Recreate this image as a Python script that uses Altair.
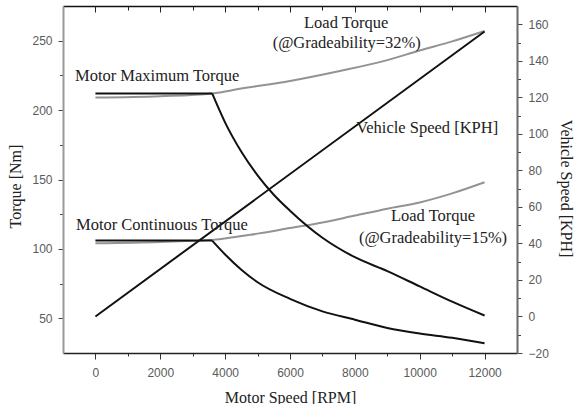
import altair as alt
import pandas as pd

# Motor speed [RPM] against torque [Nm] for each curve
rpm_max = [0, 3600, 4000, 4500, 5000, 5500, 6000, 7000, 8000, 9000, 10000, 11000, 12000]
torque_max = [212, 212, 191, 170, 153, 139, 127.5, 108, 94, 84, 73, 62, 52]

rpm_cont = [0, 3600, 4000, 4500, 5000, 6000, 7000, 8000, 9000, 10000, 11000, 12000]
torque_cont = [106, 106, 96, 85, 76, 64, 55, 49, 43, 39, 36, 32]

rpm_load32 = [0, 2000, 3600, 4500, 6000, 7500, 9000, 10000, 11000, 12000]
torque_load32 = [209, 210, 212, 215.5, 221, 228, 236, 243, 249.5, 257]

rpm_load15 = [0, 2000, 3600, 5000, 6000, 7000, 8000, 9000, 10000, 11000, 12000]
torque_load15 = [104, 105, 106.5, 111, 115, 119, 124, 129, 133.5, 140, 148]

# Base speed where the motor leaves its constant-torque region
base_rpm = 3600

# Vehicle speed [KPH] against motor speed
rpm_speed = [0, 12000]
vehicle_kph = [0, 156]

# Curve annotations (anchored in RPM / torque units)
center_texts = ["Load Torque", "(@Gradeability=32%)", "Load Torque", "(@Gradeability=15%)"]
center_rpm = [7730, 7750, 10410, 10410]
center_torque = [262.8, 248.3, 123.7, 107.8]

left_texts = ["Motor Maximum Torque", "Motor Continuous Torque", "Vehicle Speed [KPH]"]
left_rpm = [-630, -600, 8040]
left_torque = [224.6, 117.2, 187.1]

rpm_ticks = list(range(0, 13000, 1000))
torque_ticks = list(range(50, 251, 25))
kph_ticks = list(range(-20, 161, 10))


def curve(name, rpm, torque):
    return pd.DataFrame({"rpm": rpm, "torque": torque, "curve": name})


def motor_segments(name, rpm, torque):
    # constant-torque plateau and the falling branch drawn as separate pieces,
    # so the corner at base speed stays sharp while the fall is smoothed
    df = curve(name, rpm, torque)
    flat = df[df.rpm <= base_rpm].assign(curve=name + "_flat")
    fall = df[df.rpm >= base_rpm].assign(curve=name + "_fall")
    return flat, fall


load_df = pd.concat([curve("load32", rpm_load32, torque_load32),
                     curve("load15", rpm_load15, torque_load15)])
max_flat, max_fall = motor_segments("max", rpm_max, torque_max)
cont_flat, cont_fall = motor_segments("cont", rpm_cont, torque_cont)
flat_df = pd.concat([max_flat, cont_flat])
fall_df = pd.concat([max_fall, cont_fall])
speed_df = pd.DataFrame({"rpm": rpm_speed, "kph": vehicle_kph})
center_df = pd.DataFrame({"rpm": center_rpm, "torque": center_torque, "text": center_texts})
left_df = pd.DataFrame({"rpm": left_rpm, "torque": left_torque, "text": left_texts})

x_scale = alt.Scale(domain=[-1000, 13000], nice=False, zero=False)
t_scale = alt.Scale(domain=[25, 275], nice=False, zero=False)
s_scale = alt.Scale(domain=[-20, 170], nice=False, zero=False)

SANS = "Liberation Sans"
SERIF = "Liberation Serif"
LABEL_GRAY = "#5a5a5a"

x_bottom = alt.Axis(
    orient="bottom", values=rpm_ticks, grid=False,
    tickSize={"condition": {"test": "datum.value % 2000 === 0", "value": 6}, "value": 3},
    tickColor="#333333", tickWidth=1,
    domainColor="#222222", domainWidth=1.5,
    labelExpr="datum.value % 2000 === 0 ? format(datum.value, 'd') : ''",
    labelFont=SANS, labelFontSize=12, labelColor=LABEL_GRAY, labelPadding=8,
    labelOverlap=False, labelBound=False, labelFlush=False,
    title="Motor Speed [RPM]", titleFont=SERIF, titleFontSize=16,
    titleFontWeight="normal", titleColor="#222222",
    titleY=36, titleBaseline="top",
)

y_left = alt.Axis(
    orient="left", values=torque_ticks, grid=False,
    tickSize={"condition": {"test": "datum.value % 50 === 0", "value": 5}, "value": 3.5},
    tickColor="#444444", tickWidth=1,
    domainColor="#9a9a9a", domainWidth=2,
    labelExpr="datum.value % 50 === 0 ? format(datum.value, 'd') : ''",
    labelFont=SANS, labelFontSize=12, labelColor=LABEL_GRAY, labelPadding=6,
    labelOverlap=False, labelBound=False, labelFlush=False,
    title="Torque [Nm]", titleFont=SERIF, titleFontSize=16,
    titleFontWeight="normal", titleColor="#222222",
    titleAngle=-90, titleX=-48, titleY=180,
    titleAlign="center", titleBaseline="middle",
)

y_right = alt.Axis(
    orient="right", values=kph_ticks, grid=False,
    tickSize={"condition": {"test": "datum.value % 20 === 0", "value": 5}, "value": 3.5},
    tickColor="#444444", tickWidth=1,
    domainColor="#6a6a6a", domainWidth=2,
    labelExpr="datum.value % 20 === 0 ? format(datum.value, 'd') : ''",
    labelFont=SANS, labelFontSize=12, labelColor=LABEL_GRAY, labelPadding=6,
    labelOverlap=False, labelBound=False, labelFlush=False,
    title="Vehicle Speed [KPH]", titleFont=SERIF, titleFontSize=16,
    titleFontWeight="normal", titleColor="#222222",
    titleAngle=90, titleX=48, titleY=182,
    titleAlign="center", titleBaseline="middle",
)

x_top_frame = alt.Axis(orient="top", grid=False, ticks=False, labels=False,
                       domainColor="#111111", domainWidth=1.5, title=None)

x_top_major = alt.Axis(orient="top", values=rpm_ticks[::2], grid=False, domain=False,
                       labels=False, tickSize=6, offset=-6, tickColor="#222222",
                       tickWidth=1, title=None)

x_top_minor = alt.Axis(orient="top", values=rpm_ticks[1::2], grid=False, domain=False,
                       labels=False, tickSize=4, offset=-4, tickColor="#222222",
                       tickWidth=1, title=None)

load_lines = alt.Chart(load_df).mark_line(
    color="#939393", strokeWidth=2, interpolate="monotone"
).encode(
    x=alt.X("rpm:Q", scale=x_scale, axis=x_bottom),
    y=alt.Y("torque:Q", scale=t_scale, axis=y_left),
    detail="curve:N",
)

motor_flat = alt.Chart(flat_df).mark_line(color="#111111", strokeWidth=2).encode(
    x=alt.X("rpm:Q", scale=x_scale, axis=None),
    y=alt.Y("torque:Q", scale=t_scale, axis=None),
    detail="curve:N",
)

motor_fall = alt.Chart(fall_df).mark_line(
    color="#111111", strokeWidth=2, interpolate="monotone"
).encode(
    x=alt.X("rpm:Q", scale=x_scale, axis=None),
    y=alt.Y("torque:Q", scale=t_scale, axis=None),
    detail="curve:N",
)

speed_line = alt.Chart(speed_df).mark_line(color="#111111", strokeWidth=2).encode(
    x=alt.X("rpm:Q", scale=x_scale, axis=x_top_frame),
    y=alt.Y("kph:Q", scale=s_scale, axis=y_right),
)

top_major = alt.Chart(speed_df).mark_point(opacity=0, size=1).encode(
    x=alt.X("rpm:Q", scale=x_scale, axis=x_top_major),
)

top_minor = alt.Chart(speed_df).mark_point(opacity=0, size=1).encode(
    x=alt.X("rpm:Q", scale=x_scale, axis=x_top_minor),
)

center_labels = alt.Chart(center_df).mark_text(
    font=SERIF, fontSize=16.5, color="#222222", align="center", baseline="middle"
).encode(
    x=alt.X("rpm:Q", scale=x_scale, axis=None),
    y=alt.Y("torque:Q", scale=t_scale, axis=None),
    text="text:N",
)

left_labels = alt.Chart(left_df).mark_text(
    font=SERIF, fontSize=16.5, color="#222222", align="left", baseline="middle"
).encode(
    x=alt.X("rpm:Q", scale=x_scale, axis=None),
    y=alt.Y("torque:Q", scale=t_scale, axis=None),
    text="text:N",
)

chart = alt.layer(
    load_lines, motor_flat, motor_fall, speed_line, top_major, top_minor,
    center_labels, left_labels
).resolve_scale(
    y="independent"
).resolve_axis(
    x="independent", y="independent"
).properties(
    width=454, height=347,
    autosize=alt.AutoSizeParams(type="none"),
    padding={"left": 63, "top": 6, "right": 65, "bottom": 51},
    background="white",
).configure_view(stroke=None)

chart.save("out.html", embed_options={"renderer": "svg", "actions": False})
